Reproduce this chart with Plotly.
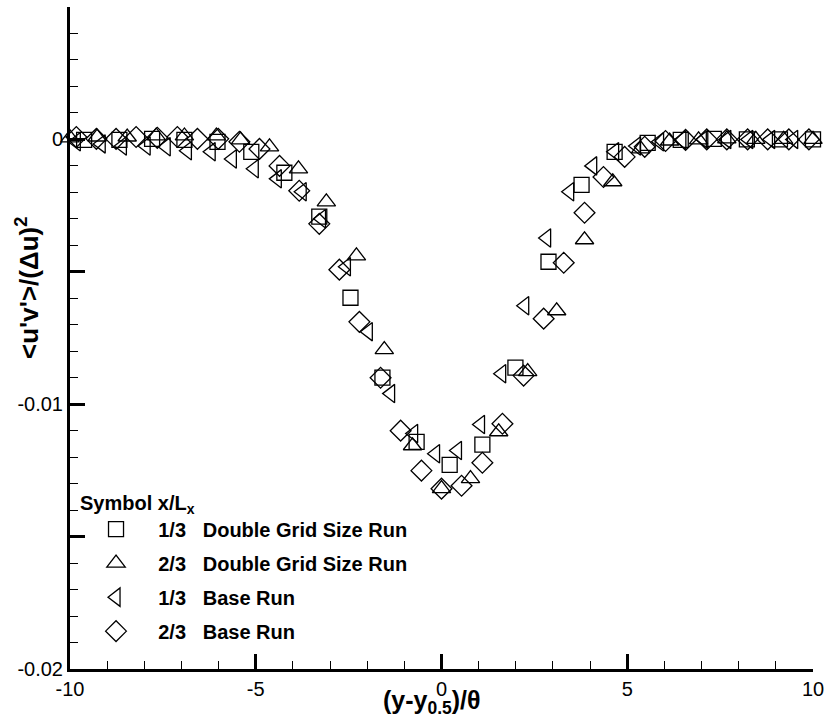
import plotly.graph_objects as go

# ---- data ----
sq_x = [-9.62, -8.67, -7.79, -6.92, -6.03, -5.12, -4.23, -3.29, -2.45, -1.59, -0.67, 0.22,
        1.10, 1.99, 2.88, 3.77, 4.66, 5.55, 6.44, 7.33, 8.22, 9.11, 10.0]
sq_y = [-0.00002, -0.00002, 0.00002, -0.00002, -0.00009, -0.00047, -0.00126, -0.00292,
        -0.00598, -0.00900, -0.01142, -0.01229, -0.01153, -0.00862, -0.00462, -0.00172,
        -0.00047, -0.00013, -0.00002, 0.00002, 0.0, 0.0, 0.0]

tu_x = [-10.0, -9.27, -8.46, -7.68, -6.92, -6.06, -5.41, -4.63, -3.85, -3.10, -2.29, -1.54,
        -0.78, 0.0, 0.78, 1.54, 2.32, 3.10, 3.85, 4.61, 5.36, 6.14, 6.92, 7.68, 8.46, 9.21, 10.0]
tu_y = [0.00006, 0.00009, 0.00009, 0.00013, 0.00013, 0.00013, -0.00002, -0.00028, -0.00111,
        -0.00236, -0.00440, -0.00794, -0.01157, -0.01319, -0.01281, -0.01104, -0.00877,
        -0.00647, -0.00379, -0.00160, -0.00036, -0.00006, -0.00002, 0.00002, 0.0, 0.0, 0.0]

tl_x = [-9.83, -9.16, -8.59, -7.95, -7.41, -6.84, -6.20, -5.63, -5.04, -4.42, -3.75, -3.23,
        -2.56, -1.97, -1.37, -0.75, -0.16, 0.43, 1.05, 1.62, 2.24, 2.83, 3.45, 4.07, 4.66,
        5.25, 5.87, 6.47, 7.06, 7.68, 8.27, 8.86, 9.48]
tl_y = [-0.00009, -0.00017, -0.00025, -0.00025, -0.00028, -0.00043, -0.00047, -0.00074,
        -0.00111, -0.00149, -0.00198, -0.00300, -0.00481, -0.00726, -0.00960, -0.01111,
        -0.01187, -0.01175, -0.01077, -0.00885, -0.00628, -0.00372, -0.00198, -0.00100,
        -0.00047, -0.00025, -0.00009, -0.00002, 0.0, 0.0, 0.0, 0.0, 0.0]

di_x = [-9.83, -9.29, -8.76, -8.22, -7.65, -7.11, -6.57, -6.01, -5.44, -4.90, -4.36, -3.83,
        -3.29, -2.75, -2.21, -1.64, -1.10, -0.54, 0.0, 0.54, 1.10, 1.64, 2.21, 2.75, 3.29,
        3.85, 4.36, 4.93, 5.47, 6.03, 6.57, 7.14, 7.68, 8.24, 8.78, 9.35, 9.89]
di_y = [0.00009, 0.00002, 0.00002, 0.00009, 0.00006, 0.00009, 0.00002, 0.00002, -0.00009,
        -0.00036, -0.00100, -0.00194, -0.00319, -0.00492, -0.00689, -0.00900, -0.01100,
        -0.01251, -0.01319, -0.01308, -0.01221, -0.01074, -0.00892, -0.00677, -0.00466,
        -0.00277, -0.00142, -0.00066, -0.00028, -0.00006, -0.00002, 0.0, 0.0, 0.0, 0.0,
        0.0, 0.0]

series_names = [
    "1/3   Double Grid Size Run",
    "2/3   Double Grid Size Run",
    "1/3   Base Run",
    "2/3   Base Run",
]

x_tickvals = [-10, -5, 0, 5, 10]
x_ticktext = ["-10", "-5", "0", "5", "10"]
y_tickvals = [-0.02, -0.015, -0.01, -0.005, 0, 0.005]
y_ticktext = ["-0.02", " ", "-0.01", " ", "0", " "]

FONT = "Liberation Sans, Arial, Helvetica, sans-serif"
NB = "\u00a0"

def label(s):
    return "<b>" + NB * 4 + s.replace(" ", NB) + "</b>"

fig = go.Figure()
specs = [
    (sq_x, sq_y, "square-open", 15),
    (tu_x, tu_y, "triangle-up-open", 16),
    (tl_x, tl_y, "triangle-left-open", 16),
    (di_x, di_y, "diamond-open", 16),
]
for i, ((xs, ys, sym, sz), nm) in enumerate(zip(specs, series_names)):
    fig.add_trace(go.Scatter(
        x=xs, y=ys, mode="markers", name=label(nm), legendgroup=f"g{i}",
        cliponaxis=False,
        marker=dict(symbol=sym, size=sz, color="black", line=dict(width=1.3, color="black")),
    ))

fig.update_layout(
    width=830, height=725,
    margin=dict(l=70, r=17, t=7, b=56),
    paper_bgcolor="white", plot_bgcolor="white",
    font=dict(family=FONT, size=20, color="black"),
    showlegend=True,
    legend=dict(
        x=0.0108, y=0.280, xanchor="left", yanchor="top",
        bgcolor="rgba(0,0,0,0)", borderwidth=0,
        title=dict(text="<b>Symbol x/L<sub>x</sub></b>", font=dict(size=20, family=FONT)),
        font=dict(size=20, family=FONT),
        tracegroupgap=5, indentation=18, itemsizing="trace",
    ),
    xaxis=dict(
        range=[-10, 10], showgrid=False, zeroline=False,
        showline=True, linewidth=3, linecolor="black", mirror=False,
        tickmode="array", tickvals=x_tickvals, ticktext=x_ticktext,
        ticks="inside", ticklen=15, tickwidth=2.5, tickcolor="black",
        tickfont=dict(size=20, family=FONT),
        minor=dict(ticks="inside", ticklen=8, tickwidth=1, tickcolor="black", tick0=0, dtick=1),
    ),
    yaxis=dict(
        range=[-0.02, 0.005], showgrid=False, zeroline=False,
        showline=True, linewidth=3, linecolor="black", mirror=False,
        tickmode="array", tickvals=y_tickvals, ticktext=y_ticktext,
        ticks="inside", ticklen=15, tickwidth=2.5, tickcolor="black",
        tickfont=dict(size=20, family=FONT),
        minor=dict(ticks="inside", ticklen=8, tickwidth=1, tickcolor="black", tick0=0, dtick=0.001),
    ),
    annotations=[
        dict(text="<b>(y-y<sub>0.5</sub>)/θ</b>", xref="paper", yref="paper",
             x=0.487, y=-0.050, xanchor="center", yanchor="middle", showarrow=False,
             font=dict(size=25, family=FONT)),
        dict(text="<b>&lt;u'v'&gt;/(Δu)<sup>2</sup></b>", xref="paper", yref="paper",
             x=-0.057, y=0.575, xanchor="center", yanchor="middle", showarrow=False,
             textangle=-90, font=dict(size=26, family=FONT)),
    ],
)

fig.write_html("out.html")
